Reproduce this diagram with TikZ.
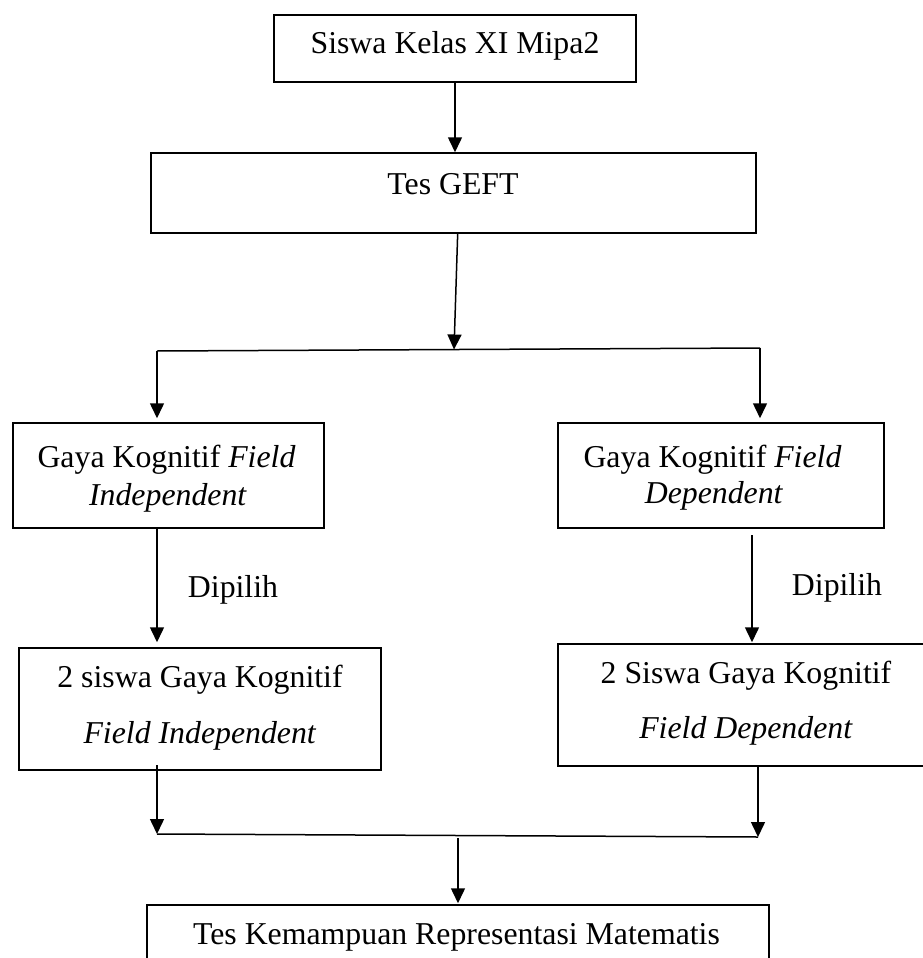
\documentclass[tikz,border=0pt]{standalone}
\usepackage{fontspec}
\setmainfont{Liberation Serif}
\usetikzlibrary{arrows.meta}
\tikzset{
  box/.style={draw, rectangle, line width=1.5pt, inner sep=0pt, fill=none},
  txt/.style={anchor=base, inner sep=0pt, font=\fontsize{31.8}{38}\selectfont},
  ln/.style={line width=1.5pt},
  arr/.style={line width=1.5pt, -{Triangle[length=15pt,width=14pt]}}
}
\begin{document}
\begin{tikzpicture}[x=1pt, y=-1pt]
  \useasboundingbox (0,0) rectangle (923,958);
  \clip (0,0) rectangle (923,958);
  \fill[white] (0,0) rectangle (923,958);

  % boxes
  \node[box, minimum width=362, minimum height=67]  (b1) at (455,48.5) {};
  \node[box, minimum width=605, minimum height=80]  (b2) at (453.5,193) {};
  \node[box, minimum width=311, minimum height=105] (b3) at (168.5,475.5) {};
  \node[box, minimum width=326, minimum height=105] (b4) at (721,475.5) {};
  \node[box, minimum width=362, minimum height=122] (b5) at (200,709) {};
  \node[box, minimum width=376, minimum height=122] (b6) at (746,705) {};
  \node[box, minimum width=622, minimum height=80]  (b7) at (458,945) {};

  % box texts
  \node[txt] (t1)  at (455,54)    {Siswa Kelas XI Mipa2};
  \node[txt] (t2)  at (453,194)   {Tes GEFT};
  \node[txt] (t3a) at (166.5,467) {Gaya Kognitif \textit{Field}};
  \node[txt] (t3b) at (168,505)   {\textit{Independent}};
  \node[txt] (t4a) at (712.5,467) {Gaya Kognitif \textit{Field}};
  \node[txt] (t4b) at (714,503)   {\textit{Dependent}};
  \node[txt] (t5a) at (200,687)   {2 siswa Gaya Kognitif};
  \node[txt] (t5b) at (200,743)   {\textit{Field Independent}};
  \node[txt] (t6a) at (746,683)   {2 Siswa Gaya Kognitif};
  \node[txt] (t6b) at (746,738)   {\textit{Field Dependent}};
  \node[txt] (t7)  at (456.5,944) {Tes Kemampuan Representasi Matematis};

  % edge labels
  \node[txt] (dp1) at (233,597) {Dipilih};
  \node[txt] (dp2) at (837,595) {Dipilih};

  % junction points
  \coordinate (g1) at (457.7,233);
  \coordinate (j1) at (454,349.5);
  \coordinate (hl) at (157,351);
  \coordinate (hr) at (760,348);
  \coordinate (r1) at (752,535);
  \coordinate (l2) at (157,765);
  \coordinate (r2) at (758,766);
  \coordinate (jl) at (157,834);
  \coordinate (jr) at (758,837);
  \coordinate (jm) at (458,838);

  % connectors
  \draw[arr] (b1.south) -- (b1.south |- b2.north);
  \draw[arr] (g1) -- (j1);
  \draw[ln] (hl) -- (hr);
  \draw[arr, shorten >=4pt] (hl) -- (hl |- b3.north);
  \draw[arr, shorten >=4pt] (hr) -- (hr |- b4.north);
  \draw[arr, shorten >=5pt] (b3.south -| hl) -- (hl |- b5.north);
  \draw[arr, shorten >=1pt] (r1) -- (r1 |- b6.north);
  \draw[arr] (l2) -- (jl);
  \draw[arr] (r2) -- (jr);
  \draw[ln] (jl) -- (jr);
  \draw[arr, shorten >=1pt] (jm) -- (jm |- b7.north);
\end{tikzpicture}
\end{document}
